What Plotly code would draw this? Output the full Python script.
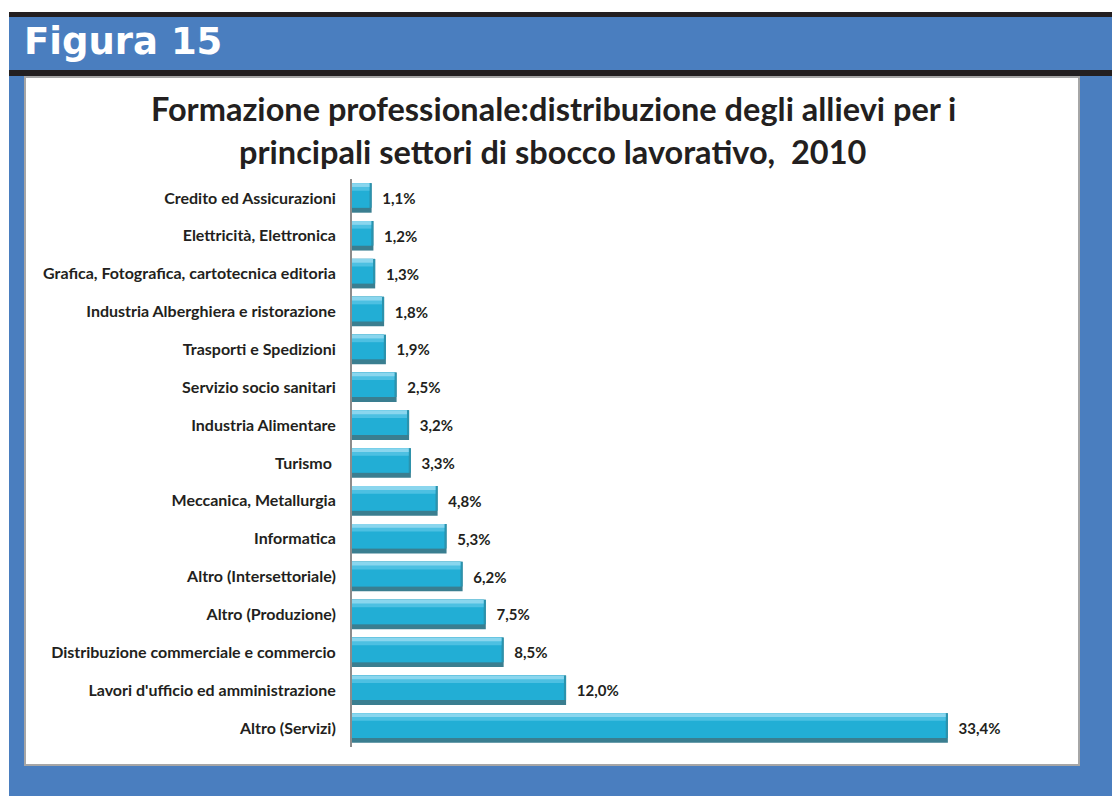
import plotly.graph_objects as go

categories = [
    "Credito ed Assicurazioni",
    "Elettricità, Elettronica",
    "Grafica, Fotografica, cartotecnica editoria",
    "Industria Alberghiera e ristorazione",
    "Trasporti e Spedizioni",
    "Servizio socio sanitari",
    "Industria Alimentare",
    "Turismo ",
    "Meccanica, Metallurgia",
    "Informatica",
    "Altro (Intersettoriale)",
    "Altro (Produzione)",
    "Distribuzione commerciale e commercio",
    "Lavori d'ufficio ed amministrazione",
    "Altro (Servizi)",
]
values = [1.1, 1.2, 1.3, 1.8, 1.9, 2.5, 3.2, 3.3, 4.8, 5.3, 6.2, 7.5, 8.5, 12.0, 33.4]
labels = [f"{v:.1f}%".replace(".", ",") for v in values]

W, H = 1112, 796
FONT = "Lato"
BW = 0.78
EDGE = 0.12  # right bevel in value units
body = [v - EDGE for v in values]

fig = go.Figure()
# dark base (bottom edge and right bevel) + labels
fig.add_trace(go.Bar(
    y=categories, x=values, orientation="h", width=BW, offset=-BW / 2,
    marker=dict(color="#3A7E90", line=dict(width=0)),
    text=labels, textposition="outside", cliponaxis=False,
    texttemplate="  <b>%{text}</b>",
    textfont=dict(family=FONT, size=15, color="#231F20"),
    hoverinfo="skip",
))
# right bevel (mid tone)
fig.add_trace(go.Bar(
    y=categories, x=values, orientation="h", width=BW - 0.13, offset=-BW / 2,
    marker=dict(color="#2A93AE", line=dict(width=0)), hoverinfo="skip",
))
# main body
fig.add_trace(go.Bar(
    y=categories, x=body, orientation="h", width=BW - 0.13, offset=-BW / 2,
    marker=dict(color="#22AED5", line=dict(width=0)), hoverinfo="skip",
))
# top highlight gradient
fig.add_trace(go.Bar(
    y=categories, x=body, orientation="h", width=0.2, offset=-BW / 2,
    marker=dict(color="#4DC0E2", line=dict(width=0)), hoverinfo="skip",
))
fig.add_trace(go.Bar(
    y=categories, x=body, orientation="h", width=0.1, offset=-BW / 2,
    marker=dict(color="#8AD6EE", line=dict(width=0)), hoverinfo="skip",
))

def px(x):
    return x / W

def py(y):
    return 1 - y / H

shapes = [
    dict(type="rect", xref="paper", yref="paper", x0=0, x1=1, y0=py(12), y1=1,
         fillcolor="white", line=dict(width=0), layer="below"),
    dict(type="rect", xref="paper", yref="paper", x0=0, x1=px(9), y0=0, y1=1,
         fillcolor="white", line=dict(width=0), layer="below"),
    dict(type="rect", xref="paper", yref="paper", x0=px(9), x1=1, y0=py(17), y1=py(12),
         fillcolor="#231F20", line=dict(width=0), layer="below"),
    dict(type="rect", xref="paper", yref="paper", x0=px(9), x1=1, y0=py(76), y1=py(70),
         fillcolor="#231F20", line=dict(width=0), layer="below"),
    dict(type="rect", xref="paper", yref="paper", x0=px(25), x1=px(1079), y0=py(765), y1=py(77),
         fillcolor="white", line=dict(color="#A6A6A6", width=2), layer="below"),
]

annotations = [
    dict(text="<b>Figura 15</b>", xref="paper", yref="paper", x=px(22), y=py(42),
         xanchor="left", yanchor="middle", showarrow=False,
         font=dict(family="DejaVu Sans", size=37, color="white")),
    dict(text="<b>Formazione professionale:distribuzione degli allievi per i</b>",
         xref="paper", yref="paper", x=px(553), y=py(108), xanchor="center", yanchor="middle",
         showarrow=False, font=dict(family=FONT, size=32.5, color="#231F20")),
    dict(text="<b>principali settori di sbocco lavorativo,  2010</b>",
         xref="paper", yref="paper", x=px(553), y=py(152), xanchor="center", yanchor="middle",
         showarrow=False, font=dict(family=FONT, size=32.5, color="#231F20")),
]

fig.update_layout(
    width=W, height=H,
    margin=dict(l=0, r=0, t=0, b=0),
    paper_bgcolor="#4A7EBF",
    plot_bgcolor="rgba(0,0,0,0)",
    barmode="overlay",
    showlegend=False,
    shapes=shapes,
    annotations=annotations,
    xaxis=dict(domain=[px(352), px(1060)], range=[0, 708 / 17.84],
               showgrid=False, zeroline=False, showticklabels=False, showline=False),
    yaxis=dict(domain=[py(747), py(179)], autorange="reversed", type="category",
               showgrid=False, zeroline=False, showline=True, linecolor="#8C8C8C", linewidth=2,
               ticks="", ticklabelstandoff=11, tickprefix="<b>", ticksuffix="</b>",
               tickfont=dict(family=FONT, size=16, color="#231F20")),
)

fig.write_html("out.html", config={"displayModeBar": False},
               post_script="document.body.style.margin='0';")
